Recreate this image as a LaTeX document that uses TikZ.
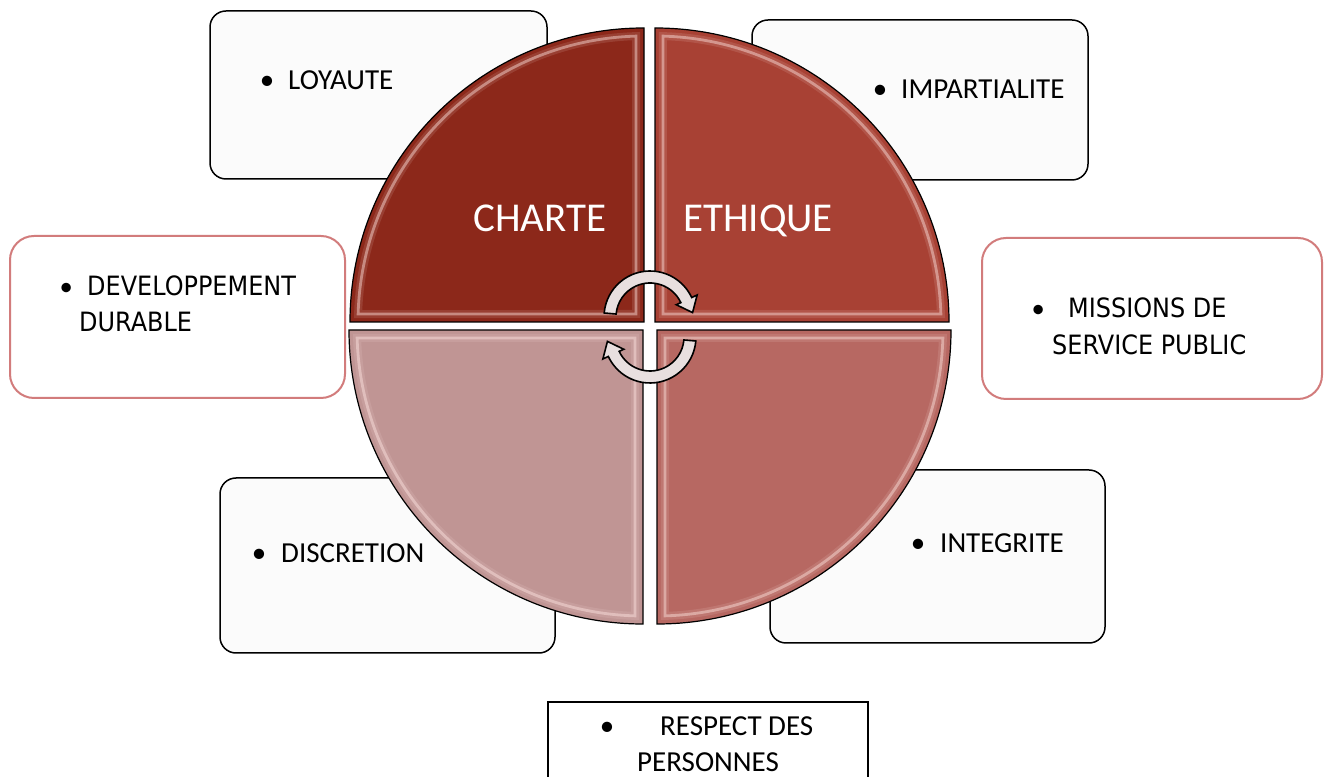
\documentclass[tikz,border=0pt]{standalone}
\usepackage{fontspec}
\setmainfont{Carlito}
\newfontfamily\tahoma[FakeStretch=0.9]{DejaVu Sans}
\definecolor{qTL}{HTML}{8C281A}
\definecolor{qTR}{HTML}{A84134}
\definecolor{qBR}{HTML}{B76862}
\definecolor{qBL}{HTML}{C09594}
\definecolor{boxfill}{HTML}{FBFBFB}
\definecolor{pinkedge}{HTML}{D27C7C}
\definecolor{arrowfill}{HTML}{E8DFDF}
\definecolor{shinecol}{HTML}{FFE6E2}
\newcommand\mybul[1]{\llap{\makebox[0pt]{\rmfamily\textbullet}\hspace{#1pt}}}
\begin{document}
\begin{tikzpicture}[x=1pt,y=1pt,
  box/.style={draw=black, line width=1.5pt, fill=boxfill, rounded corners=16pt, inner sep=0pt},
  pinkbox/.style={draw=pinkedge, line width=2pt, fill=white, rounded corners=24pt, inner sep=0pt},
  lbl/.style={anchor=base west, inner sep=0pt, font=\fontsize{29}{35}\selectfont},
  tlbl/.style={anchor=base west, inner sep=0pt, font=\tahoma\fontsize{26.6}{32}\selectfont},
  titlelbl/.style={anchor=base west, inner sep=0pt, text=white, font=\fontsize{41}{49}\selectfont},
  quadedge/.style={draw=black, line width=1.2pt},
  shinewide/.style={draw=shinecol, line width=8pt, opacity=0.12},
  shine/.style={draw=shinecol, line width=2.8pt, opacity=0.45},
  arrowshape/.style={draw=black, line width=1.6pt, fill=arrowfill}]
\clip (0,0) rectangle (1327,776);
\fill[white] (0,0) rectangle (1327,776);

% boxes
\node[box, minimum width=337pt, minimum height=168pt] (loybox) at (378.5,681) {};
\node[box, minimum width=336pt, minimum height=160pt] (impbox) at (920,676) {};
\node[pinkbox, minimum width=335pt, minimum height=162pt] (devbox) at (177.5,459) {};
\node[pinkbox, minimum width=340pt, minimum height=161pt] (misbox) at (1152,457.5) {};
\node[box, minimum width=335pt, minimum height=175pt] (disbox) at (387.5,210.5) {};
\node[box, minimum width=335pt, minimum height=173pt] (intbox) at (937.5,219.5) {};
\node[draw=black, line width=1.5pt, fill=white, minimum width=320pt, minimum height=120pt, inner sep=0pt] (resbox) at (708,14) {};

% quadrants
\begin{scope}[shift={(644,454)}]
  \fill[qTL] (0,0) -- (-294,0) arc[start angle=180,end angle=90,radius=294] -- cycle;
  \draw[shinewide] (-8,8) -- (178.4:286) arc[start angle=178.4,end angle=91.6,radius=286] -- cycle;
  \draw[shine] (-8,8) -- (178.4:286) arc[start angle=178.4,end angle=91.6,radius=286] -- cycle;
  \draw[quadedge] (0,0) -- (-294,0) arc[start angle=180,end angle=90,radius=294] -- cycle;
\end{scope}
\begin{scope}[shift={(655,454)}]
  \fill[qTR] (0,0) -- (0,294) arc[start angle=90,end angle=0,radius=294] -- cycle;
  \draw[shinewide] (8,8) -- (88.4:286) arc[start angle=88.4,end angle=1.6,radius=286] -- cycle;
  \draw[shine] (8,8) -- (88.4:286) arc[start angle=88.4,end angle=1.6,radius=286] -- cycle;
  \draw[quadedge] (0,0) -- (0,294) arc[start angle=90,end angle=0,radius=294] -- cycle;
\end{scope}
\begin{scope}[shift={(643,446)}]
  \fill[qBL] (0,0) -- (-294,0) arc[start angle=180,end angle=270,radius=294] -- cycle;
  \draw[shinewide] (-8,-8) -- (181.6:286) arc[start angle=181.6,end angle=268.4,radius=286] -- cycle;
  \draw[shine] (-8,-8) -- (181.6:286) arc[start angle=181.6,end angle=268.4,radius=286] -- cycle;
  \draw[quadedge] (0,0) -- (-294,0) arc[start angle=180,end angle=270,radius=294] -- cycle;
\end{scope}
\begin{scope}[shift={(657,446)}]
  \fill[qBR] (0,0) -- (294,0) arc[start angle=0,end angle=-90,radius=294] -- cycle;
  \draw[shinewide] (8,-8) -- (-1.6:286) arc[start angle=-1.6,end angle=-88.4,radius=286] -- cycle;
  \draw[shine] (8,-8) -- (-1.6:286) arc[start angle=-1.6,end angle=-88.4,radius=286] -- cycle;
  \draw[quadedge] (0,0) -- (294,0) arc[start angle=0,end angle=-90,radius=294] -- cycle;
\end{scope}

% circular arrows
\begin{scope}[shift={(650,459)}]
  \draw[arrowshape] (175:46) arc[start angle=175,end angle=25,radius=46] -- (25:52) -- (5.9:42.8) -- (25:29) -- (25:34) arc[start angle=25,end angle=175,radius=34] -- cycle;
\end{scope}
\begin{scope}[shift={(650,439)}, rotate=180]
  \draw[arrowshape] (175:46) arc[start angle=175,end angle=25,radius=46] -- (25:52) -- (5.9:42.8) -- (25:29) -- (25:34) arc[start angle=25,end angle=175,radius=34] -- cycle;
\end{scope}

% titles
\node[titlelbl] (charte) at (473,544) {CHARTE};
\node[titlelbl] (ethique) at (683,544) {ETHIQUE};

% labels
\node[lbl] (loy) at (288,686) {\mybul{21}LOYAUTE};
\node[lbl] (imp) at (901,677) {\mybul{21}IMPARTIALITE};
\node[lbl] (dis) at (281,213) {\mybul{22}DISCRETION};
\node[lbl] (integ) at (940,223) {\mybul{22}INTEGRITE};
\node[tlbl] (dev1) at (87,480) {\mybul{21}DEVELOPPEMENT};
\node[tlbl] (dev2) at (79,444) {DURABLE};
\node[tlbl] (mis1) at (1068,458) {\mybul{30}MISSIONS DE};
\node[tlbl] (mis2) at (1052,421) {SERVICE PUBLIC};
\node[lbl] (res1) at (660,41) {\mybul{53}RESPECT DES};
\node[lbl] (res2) at (637,5) {PERSONNES};
\end{tikzpicture}
\end{document}
